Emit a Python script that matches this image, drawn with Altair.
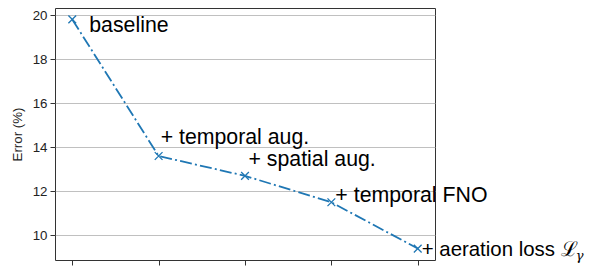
import altair as alt
import pandas as pd

steps = [0, 1, 2, 3, 4]
errors = [19.8, 13.6, 12.7, 11.5, 9.4]
labels = ["baseline", "+ temporal aug.", "+ spatial aug.", "+ temporal FNO", "+ aeration loss ℒ"]
last_subscript = "γ"

df = pd.DataFrame({"step": steps, "error": errors, "label": labels})

# pixel offsets and font sizes of each annotation (style, not data)
offsets = [(17, 13), (2, -12), (3.5, -10), (4, 0), (4, 7)]
sizes = [21.3, 21.3, 21.3, 21.3, 20.4]

FONT = "Liberation Sans"
BLUE = "#1f77b4"

x = alt.X("step:Q", scale=alt.Scale(domain=[-0.2, 4.2], nice=False, zero=False),
          axis=alt.Axis(values=steps, labels=False, title=None, grid=False, domain=False,
                        ticks=True, tickSize=5, tickColor="#333", tickWidth=1))
y = alt.Y("error:Q", scale=alt.Scale(domain=[8.88, 20.32], nice=False, zero=False),
          axis=alt.Axis(values=[10, 12, 14, 16, 18, 20], title="Error (%)", grid=True,
                        gridColor="#b0b0b0", gridWidth=0.8, domain=False,
                        tickSize=5, tickColor="#333", tickWidth=1,
                        labelFont=FONT, labelFontSize=13.3, labelColor="#222", labelPadding=3,
                        titleFont=FONT, titleFontSize=13.3, titleFontWeight="normal",
                        titleColor="#222", titlePadding=8))

base = alt.Chart(df)

line = base.mark_line(color=BLUE, strokeWidth=1.8, strokeDash=[12, 3.2, 2, 3.2]).encode(x=x, y=y)
pts = base.mark_point(shape="M-1,-1L1,1M1,-1L-1,1", size=60, color=BLUE, filled=False,
                      strokeWidth=1.3, opacity=1).encode(x=x, y=y)

layers = [line, pts]
for i, (dx, dy) in enumerate(offsets):
    t = base.transform_filter(alt.datum.step == steps[i]).mark_text(
        align="left", baseline="alphabetic", dx=dx, dy=dy, font=FONT, fontSize=sizes[i],
        color="#000").encode(x="step:Q", y="error:Q", text="label:N")
    layers.append(t)

sub = base.transform_filter(alt.datum.step == steps[-1]).transform_calculate(
    sub=f"'{last_subscript}'").mark_text(
    align="left", baseline="alphabetic", dx=158, dy=11, font="DejaVu Serif",
    fontStyle="italic", fontSize=13, color="#000").encode(x="step:Q", y="error:Q", text="sub:N")
layers.append(sub)

chart = alt.layer(*layers).properties(
    width=380, height=252,
    autosize=alt.AutoSizeParams(type="none"),
    padding={"left": 47, "top": 0, "right": 150, "bottom": 6},
).configure_view(stroke="#333", strokeWidth=1)

chart.save("out.html", embed_options={"renderer": "svg", "actions": False})
